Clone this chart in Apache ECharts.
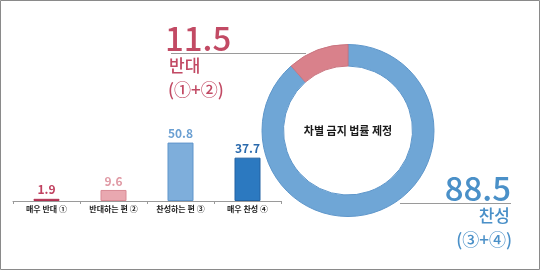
<!DOCTYPE html>
<html><head><meta charset="utf-8">
<script src="https://cdn.jsdelivr.net/npm/echarts@6/dist/echarts.min.js"></script>
<style>html,body{margin:0;padding:0;background:#fff}#c{width:540px;height:270px}</style>
</head><body><div id="c"></div>
<script>
const categories = ['매우 반대 ①', '반대하는 편 ②', '찬성하는 편 ③', '매우 찬성 ④'];
const barValues = [1.9, 9.6, 50.8, 37.7];
const donutNames = ['찬성', '반대'];
const donutValues = [88.5, 11.5];
const centerTitle = '차별 금지 법률 제정';
const opposeSub = '(①+②)';
const supportSub = '(③+④)';

const barColors = ['#c23d5e', '#e9a8b0', '#7eaedb', '#2c79c0'];
const barBorders = ['#b03050', '#d98a95', '#5f95cb', '#2262a3'];
const labelColors = ['#c0405f', '#e09aa5', '#6a9fd2', '#2a6aad'];
const red = '#c24a64', blue = '#4a90c8';
const F = 'Noto Sans CJK KR';

const chart = echarts.init(document.getElementById('c'));
chart.setOption({
  animation: false,
  grid: { left: 13, width: 268, top: 86, height: 115 },
  xAxis: {
    type: 'category', data: categories,
    axisLine: { lineStyle: { color: '#9a9a9a', width: 1 } },
    axisTick: { show: true, length: 3, lineStyle: { color: '#9a9a9a' } },
    axisLabel: { fontFamily: F, fontSize: 8, fontWeight: 'bold', color: '#222', margin: 4, interval: 0 }
  },
  yAxis: { type: 'value', min: 0, max: 100, show: false, splitLine: { show: false } },
  series: [
    {
      type: 'bar', barWidth: 26,
      data: barValues.map((v, i) => ({
        value: v,
        itemStyle: { color: barColors[i], borderColor: barBorders[i], borderWidth: 1 },
        label: { color: labelColors[i] }
      })),
      label: { show: true, position: 'top', distance: 3, fontFamily: F, fontSize: 12, fontWeight: 'bold' }
    },
    {
      type: 'pie', center: [348, 130.5], radius: [64.5, 86], startAngle: 90, clockwise: true,
      label: { show: false }, labelLine: { show: false }, silent: true,
      data: donutValues.map((v, i) => ({
        name: donutNames[i], value: v,
        itemStyle: { color: i === 0 ? '#6fa6d6' : '#d9818b', borderColor: i === 0 ? '#5e96ca' : '#c97580', borderWidth: 1 }
      }))
    }
  ],
  graphic: [
    { type: 'rect', shape: { x: 0.5, y: 0.5, width: 539, height: 269 }, style: { fill: 'none', stroke: '#8a8a8a', lineWidth: 1 } },
    { type: 'text', x: 348, y: 131, style: { text: centerTitle, font: 'bold 11px "' + F + '"', fill: '#1a1a1a', align: 'center', verticalAlign: 'middle' } },
    { type: 'text', x: 165, y: 38, style: { text: donutValues[1].toFixed(1), font: '500 33px "' + F + '"', fill: red, align: 'left', verticalAlign: 'middle' } },
    { type: 'line', shape: { x1: 171, y1: 53.5, x2: 306, y2: 53.5 }, style: { stroke: '#9a9a9a', lineWidth: 1 } },
    { type: 'text', x: 169, y: 66, style: { text: donutNames[1], font: '500 17px "' + F + '"', fill: red, align: 'left', verticalAlign: 'middle' } },
    { type: 'text', x: 168, y: 90, style: { text: opposeSub, font: '500 17px "' + F + '"', fill: red, align: 'left', verticalAlign: 'middle' } },
    { type: 'text', x: 511, y: 188, style: { text: donutValues[0].toFixed(1), font: '500 33px "' + F + '"', fill: blue, align: 'right', verticalAlign: 'middle' } },
    { type: 'line', shape: { x1: 400, y1: 203.5, x2: 511, y2: 203.5 }, style: { stroke: '#9a9a9a', lineWidth: 1 } },
    { type: 'text', x: 510, y: 215.5, style: { text: donutNames[0], font: '500 17px "' + F + '"', fill: blue, align: 'right', verticalAlign: 'middle' } },
    { type: 'text', x: 512, y: 240, style: { text: supportSub, font: '500 17px "' + F + '"', fill: blue, align: 'right', verticalAlign: 'middle' } }
  ]
});
</script></body></html>
